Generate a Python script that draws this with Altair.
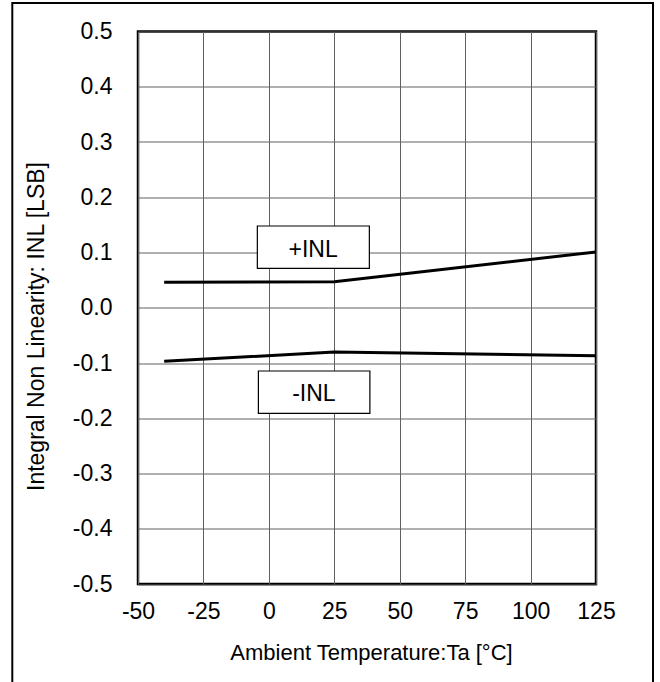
import altair as alt
import pandas as pd

# data
temps = [-40, 25, 125]
inl_pos = [0.046, 0.047, 0.101]
inl_neg = [-0.097, -0.080, -0.087]

x_ticks = [-50, -25, 0, 25, 50, 75, 100, 125]
y_ticks = [-0.5, -0.4, -0.3, -0.2, -0.1, 0.0, 0.1, 0.2, 0.3, 0.4, 0.5]

label_names = ["+INL", "-INL"]
label_x = [16.9, 17.2]
label_y = [0.104, -0.157]
box_x1 = [-4.4, -4.0]
box_x2 = [38.4, 38.6]
box_y1 = [0.148, -0.1145]
box_y2 = [0.0714, -0.191]

FONT = "Liberation Sans"
FS = 23
MINUS_FIX = "replace(datum.label, '\u2212', '-')"

lines_df = pd.DataFrame({
    "T": temps * 2,
    "INL": inl_pos + inl_neg,
    "series": ["+INL"] * len(temps) + ["-INL"] * len(temps),
})
labels_df = pd.DataFrame({
    "name": label_names, "lx": label_x, "ly": label_y,
    "bx1": box_x1, "bx2": box_x2, "by1": box_y1, "by2": box_y2,
})

xscale = alt.Scale(domain=[-50, 125], nice=False, zero=False)
yscale = alt.Scale(domain=[-0.5, 0.5], nice=False, zero=False)

xaxis = alt.Axis(
    values=x_ticks, title="Ambient Temperature:Ta [°C]", grid=True,
    gridColor="#606060", gridWidth=1, domain=False, ticks=False,
    labelFont=FONT, labelFontSize=FS, labelColor="black",
    labelBaseline="alphabetic", labelPadding=34, labelExpr=MINUS_FIX,
    titleFont=FONT, titleFontSize=22, titleFontWeight="normal", titleColor="black",
    titleBaseline="alphabetic", titleY=75, titleX=233,
    labelFlush=False,
)
yaxis = alt.Axis(
    values=y_ticks, format=".1f", title="Integral Non Linearity: INL [LSB]",
    grid=True, gridColor="#606060", gridWidth=1, domain=False, ticks=False,
    labelFont=FONT, labelFontSize=FS, labelColor="black", labelPadding=26,
    labelFlush=False, labelExpr=MINUS_FIX,
    titleFont=FONT, titleFontSize=FS, titleFontWeight="normal", titleColor="black",
    titleAngle=-90, titleBaseline="alphabetic", titleAlign="center",
    titleX=-94.5, titleY=294.5,
)

lines = alt.Chart(lines_df).mark_line(color="black", strokeWidth=3).encode(
    x=alt.X("T:Q", scale=xscale, axis=xaxis),
    y=alt.Y("INL:Q", scale=yscale, axis=yaxis),
    detail="series:N",
)

boxes = alt.Chart(labels_df).mark_rect(fill="white", stroke="black", strokeWidth=1.2).encode(
    x=alt.X("bx1:Q", scale=xscale),
    x2="bx2:Q",
    y=alt.Y("by1:Q", scale=yscale),
    y2="by2:Q",
)

texts = alt.Chart(labels_df).mark_text(
    font=FONT, fontSize=FS, color="black", align="center", baseline="middle"
).encode(
    x=alt.X("lx:Q", scale=xscale),
    y=alt.Y("ly:Q", scale=yscale),
    text="name:N",
)

frame = alt.Chart(pd.DataFrame({"a": [0]})).mark_rect(
    fill=None, fillOpacity=0, stroke="black", strokeWidth=2
).encode(
    x=alt.value(-125.7), x2=alt.value(515),
    y=alt.value(-28.5), y2=alt.value(700),
)

chart = alt.layer(lines, boxes, texts, frame).properties(
    width=458, height=552.5,
    autosize=alt.AutoSizeParams(type="none"),
    padding={"left": 138, "top": 31.5, "right": 64, "bottom": 98},
    background="white",
).configure_view(
    stroke="black", strokeWidth=2.5
)

chart.save("out.html", embed_options={"renderer": "svg", "actions": False})
